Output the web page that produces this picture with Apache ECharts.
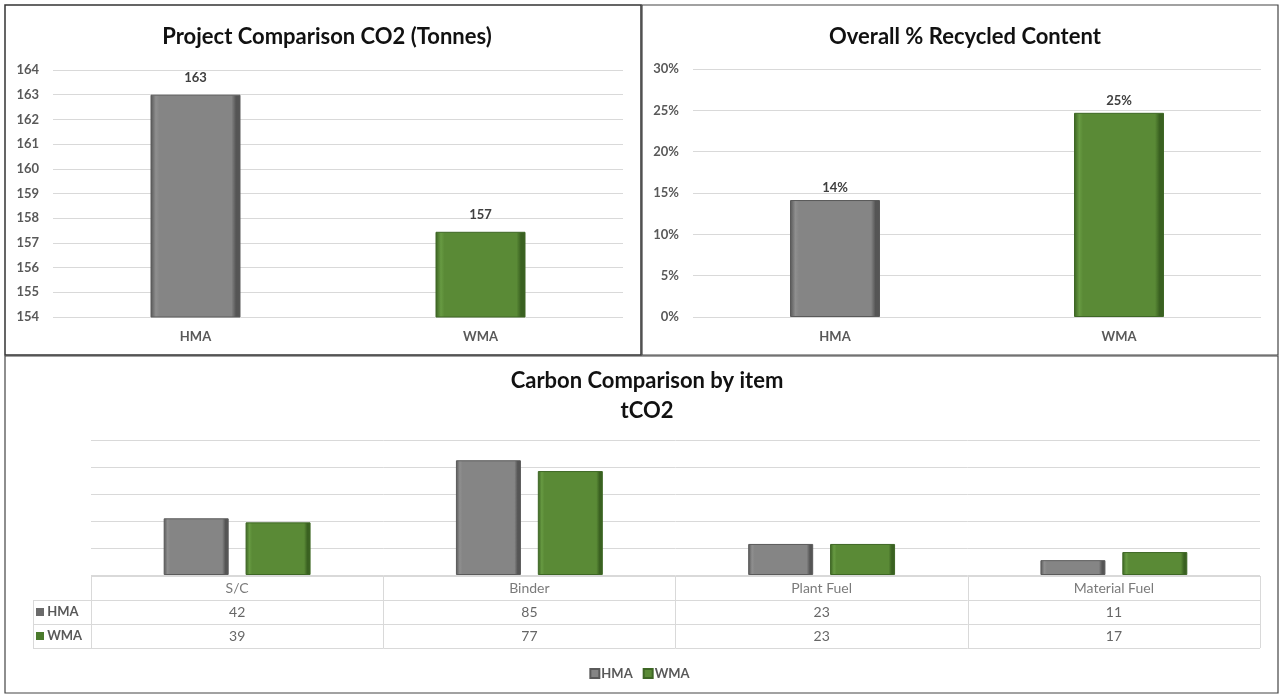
<!DOCTYPE html>
<html>
<head>
<meta charset="utf-8">
<script src="https://cdn.jsdelivr.net/npm/echarts@6/dist/echarts.min.js"></script>
<style>
  html, body { margin: 0; padding: 0; background: #fff; }
  #main { width: 1279px; height: 695px; }
</style>
</head>
<body>
<div id="main"></div>
<script>
var FONT = 'Lato, "Open Sans", sans-serif';

// top left: project CO2
var co2Cats = ['HMA', 'WMA'];
var co2Values = [163, 157.45];
var co2Ticks = { min: 154, max: 164, step: 1 };

// top right: recycled content
var recCats = ['HMA', 'WMA'];
var recValues = [0.1415, 0.247];
var recTicks = { min: 0, max: 0.3, step: 0.05 };

// bottom: carbon by item
var itemCats = ['S/C', 'Binder', 'Plant Fuel', 'Material Fuel'];
var hmaItems = [42, 85, 23, 11];
var wmaItems = [39, 77, 23, 17];
var itemTicks = { min: 0, max: 100, step: 20 };
var tableRows = ['hdr', 'HMA', 'WMA'];

function bevel(light, base, dark) {
  return new echarts.graphic.LinearGradient(0, 0, 1, 0, [
    { offset: 0, color: dark },
    { offset: 0.06, color: light },
    { offset: 0.1, color: base },
    { offset: 0.9, color: base },
    { offset: 0.95, color: dark },
    { offset: 1, color: dark }
  ]);
}
var grayStyle = { color: bevel('#8f8f8f', '#858585', '#555555'), borderColor: '#5a5a5a', borderWidth: 1 };
var greenStyle = { color: bevel('#679a42', '#5a8a36', '#3a6121'), borderColor: '#3e6725', borderWidth: 1 };

var gridLine = { show: true, lineStyle: { color: '#d9d9d9', width: 1 } };
var axisTxt = { color: '#595959', fontSize: 13, fontWeight: 'bold', fontFamily: FONT };
var titleTxt = { fontSize: 22, fontWeight: 'bold', color: '#111', fontFamily: FONT };

var chart = echarts.init(document.getElementById('main'));

var option = {
  animation: false,
  textStyle: { fontFamily: FONT },
  title: [
    { text: 'Project Comparison CO2 (Tonnes)', left: 322, top: 21, textAlign: 'center', textStyle: titleTxt },
    { text: 'Overall % Recycled Content', left: 960, top: 21, textAlign: 'center', textStyle: titleTxt },
    { text: 'Carbon Comparison by item\ntCO2', left: 642, top: 361, textAlign: 'center',
      textStyle: Object.assign({ lineHeight: 30 }, titleTxt) }
  ],
  legend: {
    data: ['HMA', 'WMA'],
    left: 'center',
    top: 662,
    icon: 'rect',
    itemWidth: 9,
    itemHeight: 9,
    itemGap: 10,
    textStyle: { color: '#595959', fontSize: 13, fontWeight: 'bold', fontFamily: FONT, padding: [0, 0, 0, -3] }
  },
  graphic: [
    { type: 'rect', shape: { x: 5, y: 5, width: 636, height: 350 }, style: { fill: 'none', stroke: '#333', lineWidth: 1.5 } },
    { type: 'rect', shape: { x: 642, y: 5, width: 636, height: 350 }, style: { fill: 'none', stroke: '#444', lineWidth: 1.2 } },
    { type: 'rect', shape: { x: 5, y: 356, width: 1273, height: 337 }, style: { fill: 'none', stroke: '#444', lineWidth: 1.2 } }
  ],
  grid: [
    { left: 53, right: 656, top: 70, bottom: 378 },
    { left: 693, right: 18, top: 69, bottom: 378 },
    { left: 91, right: 19, top: 440, bottom: 120 },
    { left: 91, right: 19, top: 576, bottom: 47 },
    { left: 33, right: 1188, top: 600, bottom: 47 }
  ],
  xAxis: [
    { gridIndex: 0, type: 'category', data: co2Cats, axisLine: { show: false }, axisTick: { show: false },
      axisLabel: Object.assign({ margin: 13 }, axisTxt) },
    { gridIndex: 1, type: 'category', data: recCats, axisLine: { show: false }, axisTick: { show: false },
      axisLabel: Object.assign({ margin: 13 }, axisTxt) },
    { gridIndex: 2, type: 'category', data: itemCats, axisLine: { show: false }, axisTick: { show: false },
      axisLabel: { show: false } },
    { gridIndex: 3, type: 'category', data: itemCats, axisLine: { show: false }, axisTick: { show: false },
      axisLabel: { show: false }, splitLine: { show: true, interval: 0, lineStyle: { color: '#d9d9d9' } } },
    { gridIndex: 4, type: 'category', data: [''], axisLine: { show: false }, axisTick: { show: false },
      axisLabel: { show: false }, splitLine: { show: true, interval: 0, lineStyle: { color: '#d9d9d9' } } }
  ],
  yAxis: [
    { gridIndex: 0, type: 'value', min: co2Ticks.min, max: co2Ticks.max, interval: co2Ticks.step,
      axisLabel: Object.assign({ margin: 14 }, axisTxt), splitLine: gridLine },
    { gridIndex: 1, type: 'value', min: recTicks.min, max: recTicks.max, interval: recTicks.step,
      axisLabel: Object.assign({ margin: 14, formatter: function (v) { return Math.round(v * 100) + '%'; } }, axisTxt),
      splitLine: gridLine },
    { gridIndex: 2, type: 'value', min: itemTicks.min, max: itemTicks.max, interval: itemTicks.step,
      axisLabel: { show: false }, splitLine: gridLine },
    { gridIndex: 3, type: 'category', data: tableRows, inverse: true, axisLine: { show: false }, axisTick: { show: false },
      axisLabel: { show: false }, splitLine: { show: true, interval: 0, lineStyle: { color: '#d9d9d9' } } },
    { gridIndex: 4, type: 'category', data: ['HMA', 'WMA'], inverse: true, axisLine: { show: false }, axisTick: { show: false },
      splitLine: { show: true, interval: 0, lineStyle: { color: '#d9d9d9' } },
      axisLabel: {
        inside: true, margin: 3, color: '#595959', fontSize: 13, fontWeight: 'bold', fontFamily: FONT,
        formatter: function (v, i) { return (i === 0 ? '{g|}' : '{w|}') + ' ' + v; },
        rich: {
          g: { width: 8, height: 8, backgroundColor: '#6a6a6a' },
          w: { width: 8, height: 8, backgroundColor: '#4a7a2c' }
        }
      } }
  ],
  series: [
    {
      name: 'CO2', type: 'bar', xAxisIndex: 0, yAxisIndex: 0, barWidth: 90,
      data: co2Values.map(function (v, i) { return { value: v, itemStyle: i === 0 ? grayStyle : greenStyle }; }),
      label: { show: true, position: 'top', distance: 10, color: '#404040', fontSize: 13, fontWeight: 'bold', fontFamily: FONT,
        formatter: function (p) { return p.value.toFixed(0); } }
    },
    {
      name: 'Recycled', type: 'bar', xAxisIndex: 1, yAxisIndex: 1, barWidth: 90,
      data: recValues.map(function (v, i) { return { value: v, itemStyle: i === 0 ? grayStyle : greenStyle }; }),
      label: { show: true, position: 'top', distance: 6, color: '#404040', fontSize: 13, fontWeight: 'bold', fontFamily: FONT,
        formatter: function (p) { return Math.round(p.value * 100) + '%'; } }
    },
    {
      name: 'HMA', type: 'bar', xAxisIndex: 2, yAxisIndex: 2, barWidth: 65, barGap: '26%',
      itemStyle: grayStyle, data: hmaItems
    },
    {
      name: 'WMA', type: 'bar', xAxisIndex: 2, yAxisIndex: 2, barWidth: 65, barGap: '26%',
      itemStyle: greenStyle, data: wmaItems
    },
    {
      name: 'tableHeader', type: 'scatter', xAxisIndex: 3, yAxisIndex: 3, symbolSize: 1,
      itemStyle: { color: 'rgba(0,0,0,0)' }, silent: true,
      data: itemCats.map(function (c) { return [c, 'hdr']; }),
      label: { show: true, position: 'inside', color: '#595959', fontSize: 14, fontFamily: FONT,
        formatter: function (p) { return itemCats[p.dataIndex]; } }
    },
    {
      name: 'tableHMA', type: 'scatter', xAxisIndex: 3, yAxisIndex: 3, symbolSize: 1,
      itemStyle: { color: 'rgba(0,0,0,0)' }, silent: true,
      data: itemCats.map(function (c, i) { return [c, 'HMA', hmaItems[i]]; }),
      label: { show: true, position: 'inside', color: '#404040', fontSize: 14, fontFamily: FONT,
        formatter: function (p) { return p.value[2]; } }
    },
    {
      name: 'tableWMA', type: 'scatter', xAxisIndex: 3, yAxisIndex: 3, symbolSize: 1,
      itemStyle: { color: 'rgba(0,0,0,0)' }, silent: true,
      data: itemCats.map(function (c, i) { return [c, 'WMA', wmaItems[i]]; }),
      label: { show: true, position: 'inside', color: '#404040', fontSize: 14, fontFamily: FONT,
        formatter: function (p) { return p.value[2]; } }
    }
  ]
};

chart.setOption(option);
</script>
</body>
</html>
